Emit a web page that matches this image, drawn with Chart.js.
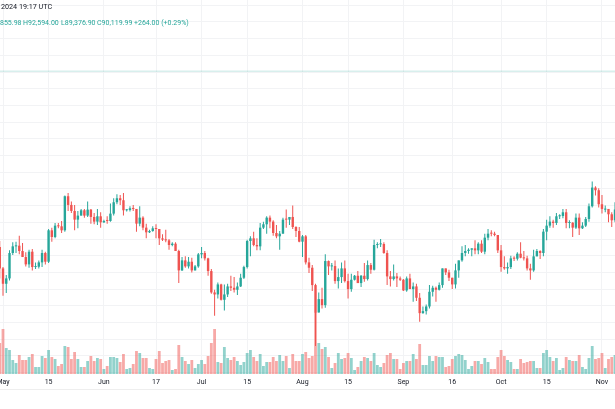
<!DOCTYPE html>
<html>
<head>
<meta charset="utf-8">
<script src="https://cdn.jsdelivr.net/npm/chart.js@4.4.1/dist/chart.umd.min.js"></script>
<style>
  html, body { margin: 0; padding: 0; background: #fff; }
  #wrap { width: 615px; height: 409px; }
</style>
</head>
<body>
<div id="wrap"><canvas id="myChart" width="615" height="409"></canvas></div>
<script>
// daily candles, Apr 30 .. Nov 5 (price in thousand USD)
const firstDay = -1 // Apr 30, counted in days from May 1

const open = [
  63.8,
  60.6, 58.3, 59.1, 62.9, 63.9, 64.0, 63.2, 62.3, 61.2, 63.1, 60.8, 60.85, 61.5, 62.9, 61.6, 66.3,
  65.3, 67.0, 66.9, 66.3, 71.4, 70.1, 69.2, 67.9, 68.5, 69.3, 68.5, 69.4, 68.3, 67.6, 68.4,
  67.5, 67.75, 67.7, 68.8, 70.5, 71.1, 70.8, 69.3, 69.35, 69.6, 69.5, 67.3, 68.2, 66.7, 66.0,
  66.2, 66.6, 66.5, 65.1, 64.9, 64.8, 64.1, 64.3, 63.2, 60.3, 61.8, 60.9, 61.6, 60.3, 60.9,
  62.7, 62.9, 62.1, 60.2, 57.0, 56.7, 58.2, 55.9, 56.7, 57.9, 57.7, 57.4, 57.9, 59.2, 60.8,
  64.7, 65.1, 64.1, 63.9, 66.7, 67.2, 68.2, 67.6, 65.9, 65.4, 65.8, 67.95, 67.9, 68.3, 66.8, 66.2,
  64.6, 65.4, 61.5, 60.7, 58.1, 54.0, 56.0, 55.1, 61.7, 60.9, 60.95, 58.7, 59.3, 60.6, 58.7,
  57.5, 58.9, 59.5, 58.4, 59.5, 59.0, 61.1, 60.4, 64.1, 64.2, 64.25, 62.9, 59.4, 59.0, 59.4, 59.1,
  58.9, 57.3, 59.1, 57.5, 57.9, 56.2, 53.9, 54.2, 54.9, 57.1, 57.7, 57.4, 58.1, 60.6, 60.0,
  59.2, 58.2, 60.3, 61.8, 62.9, 63.2, 63.4, 63.6, 63.3, 64.3, 63.1, 65.2, 65.85, 65.8, 65.6,
  63.3, 60.8, 60.6, 60.8, 62.15, 62.05, 62.8, 62.2, 62.1, 60.6, 60.3, 62.4, 63.2, 62.9, 66.1,
  67.0, 67.6, 67.4, 68.4, 68.45, 69.0, 67.4, 67.45, 66.7, 68.2, 66.6, 67.0, 68.0, 69.9, 72.7, 72.3,
  70.2, 69.4, 69.5, 68.7, 67.8
]
const high = [
  64.7,
  60.8, 59.6, 63.3, 64.5, 64.6, 65.5, 64.4, 63.0, 63.4, 63.5, 61.5, 61.8, 63.4, 63.1, 66.5, 66.7,
  67.4, 67.4, 67.7, 71.5, 71.9, 70.6, 70.1, 69.2, 69.5, 69.5, 70.6, 69.5, 68.9, 69.5, 69.0,
  67.9, 68.4, 70.3, 71.1, 71.7, 71.6, 71.9, 69.5, 69.9, 70.1, 69.5, 69.9, 68.4, 67.3, 66.4,
  66.9, 67.2, 66.5, 65.7, 66.4, 65.0, 64.5, 64.5, 63.4, 62.3, 62.4, 62.3, 62.2, 61.1, 62.9,
  63.8, 63.2, 62.2, 60.5, 57.4, 58.5, 58.3, 58.2, 58.3, 59.5, 59.3, 58.5, 59.8, 61.0, 64.9,
  65.4, 66.1, 65.1, 67.4, 67.6, 68.4, 68.5, 67.8, 67.1, 66.2, 68.2, 69.4, 68.3, 70.0, 66.9, 66.8,
  65.6, 65.6, 62.2, 61.1, 58.3, 57.0, 57.7, 62.7, 61.8, 61.4, 61.8, 60.6, 61.5, 61.8, 59.8,
  59.8, 59.6, 60.2, 59.6, 61.4, 61.8, 61.4, 64.9, 64.5, 65.0, 64.5, 63.3, 60.2, 61.2, 59.9, 59.4,
  59.0, 59.4, 59.8, 58.5, 58.3, 56.9, 54.9, 55.2, 58.1, 58.0, 57.9, 58.5, 60.6, 60.6, 60.4,
  59.2, 61.3, 61.8, 63.9, 64.1, 63.6, 63.6, 64.8, 64.5, 64.8, 65.8, 66.5, 66.3, 66.1, 65.6,
  64.1, 62.4, 61.5, 62.5, 62.4, 63.0, 64.5, 63.2, 62.5, 61.3, 63.4, 63.5, 63.3, 66.5, 67.9,
  68.4, 67.9, 68.9, 68.7, 69.5, 69.5, 67.8, 67.5, 68.8, 68.8, 67.5, 68.3, 70.3, 73.6, 72.9, 72.6,
  71.6, 70.0, 69.5, 69.0, 70.5
]
const low = [
  59.1,
  56.5, 56.9, 58.8, 62.6, 62.9, 62.7, 62.3, 60.9, 60.7, 60.3, 60.5, 60.6, 60.8, 61.2, 61.4, 64.6,
  65.1, 66.6, 65.9, 66.1, 69.2, 68.9, 66.3, 66.6, 68.5, 68.2, 68.3, 67.3, 67.2, 67.1, 66.7,
  67.4, 67.3, 67.6, 68.5, 70.2, 70.1, 68.5, 69.1, 69.1, 69.2, 66.1, 66.9, 66.3, 65.1, 65.9,
  66.1, 65.1, 64.1, 64.7, 64.5, 63.4, 63.9, 63.2, 58.4, 60.2, 60.7, 60.6, 60.0, 60.3, 60.7,
  62.1, 61.8, 59.5, 56.8, 53.5, 56.1, 55.8, 54.3, 56.3, 57.2, 57.0, 56.6, 57.8, 59.0, 60.6,
  62.4, 63.9, 63.3, 63.3, 66.5, 65.8, 66.6, 65.5, 65.1, 63.4, 65.8, 66.7, 67.1, 66.5, 65.3, 64.5,
  62.3, 61.2, 59.9, 57.2, 49.0, 54.0, 54.6, 54.7, 59.6, 60.3, 58.3, 57.6, 58.4, 58.5, 56.1,
  57.1, 58.8, 58.4, 57.8, 58.6, 58.8, 59.8, 60.3, 63.6, 63.8, 62.8, 58.1, 57.9, 58.8, 57.8, 58.7,
  57.2, 57.1, 57.5, 55.6, 55.7, 52.6, 53.8, 53.7, 54.6, 56.4, 55.6, 57.3, 57.7, 59.6, 58.7,
  57.5, 57.6, 59.2, 61.6, 62.4, 62.8, 62.4, 62.7, 62.7, 62.9, 62.7, 64.8, 65.4, 65.4, 62.9,
  60.1, 60.4, 59.8, 60.5, 61.7, 61.8, 62.1, 61.8, 60.3, 58.9, 60.1, 62.4, 62.0, 62.4, 64.8,
  66.7, 66.7, 67.1, 68.0, 68.1, 66.6, 66.6, 65.3, 66.5, 65.6, 66.5, 66.8, 67.6, 69.7, 71.5, 69.7,
  68.8, 69.0, 67.5, 66.8, 67.5
]
const close = [
  60.6,
  58.3, 59.1, 62.9, 63.9, 64.0, 63.2, 62.3, 61.2, 63.1, 60.8, 60.85, 61.5, 62.9, 61.6, 66.3, 65.3,
  67.0, 66.9, 66.3, 71.4, 70.1, 69.2, 67.9, 68.5, 69.3, 68.5, 69.4, 68.3, 67.6, 68.4, 67.5,
  67.7, 67.7, 68.8, 70.5, 71.1, 70.8, 69.3, 69.35, 69.6, 69.5, 67.3, 68.2, 66.7, 66.0, 66.2,
  66.6, 66.5, 65.1, 64.9, 64.8, 64.1, 64.3, 63.2, 60.3, 61.8, 60.9, 61.6, 60.3, 60.9, 62.7,
  62.9, 62.1, 60.2, 57.0, 56.7, 58.2, 55.9, 56.7, 57.9, 57.7, 57.4, 57.9, 59.2, 60.8, 64.7,
  65.1, 64.1, 63.9, 66.7, 67.2, 68.2, 67.6, 65.9, 65.4, 65.8, 67.9, 67.9, 68.3, 66.8, 66.2, 64.6,
  65.4, 61.5, 60.7, 58.1, 54.0, 56.0, 55.1, 61.7, 60.9, 60.95, 58.7, 59.3, 60.6, 58.7, 57.5,
  58.9, 59.5, 58.4, 59.5, 59.0, 61.1, 60.4, 64.1, 64.2, 64.25, 62.9, 59.4, 59.0, 59.4, 59.1, 58.9,
  57.3, 59.1, 57.5, 57.9, 56.2, 53.9, 54.2, 54.9, 57.1, 57.7, 57.4, 58.1, 60.6, 60.0, 59.2,
  58.2, 60.3, 61.8, 62.9, 63.2, 63.4, 63.6, 63.3, 64.3, 63.1, 65.2, 65.8, 65.8, 65.6, 63.3,
  60.8, 60.6, 60.8, 62.1, 62.05, 62.8, 62.2, 62.1, 60.6, 60.3, 62.4, 63.2, 62.9, 66.1, 67.0,
  67.6, 67.4, 68.4, 68.45, 69.0, 67.4, 67.45, 66.7, 68.2, 66.6, 67.0, 68.0, 69.9, 72.7, 72.3, 70.2,
  69.5, 69.5, 68.7, 67.8, 69.4
]
// volume, relative units
const volume = [
  31,
  45, 26, 24, 14, 11, 19, 14, 14, 17, 20, 7, 7, 18, 16, 24, 17,
  15, 8, 10, 28, 27, 15, 22, 15, 7, 7, 13, 18, 13, 16, 15,
  5, 8, 17, 17, 16, 12, 20, 5, 6, 10, 23, 21, 16, 16, 6,
  5, 15, 23, 11, 13, 14, 4, 5, 29, 17, 13, 10, 14, 6, 10,
  14, 10, 18, 31, 45, 12, 11, 27, 16, 14, 17, 13, 9, 12, 21,
  24, 17, 13, 20, 8, 12, 12, 17, 13, 19, 13, 18, 6, 20, 13, 13,
  20, 22, 16, 18, 62, 31, 25, 27, 17, 6, 11, 21, 15, 16, 21,
  16, 4, 7, 13, 17, 16, 13, 21, 9, 7, 11, 19, 21, 15, 15, 5,
  11, 13, 13, 20, 15, 30, 9, 9, 18, 13, 18, 17, 17, 7, 8,
  15, 18, 20, 19, 14, 5, 8, 13, 13, 10, 16, 12, 5, 5, 17,
  24, 18, 14, 12, 5, 5, 15, 11, 12, 13, 13, 6, 6, 21, 24,
  17, 13, 16, 4, 6, 17, 14, 13, 13, 19, 7, 5, 16, 28, 15, 16,
  21, 6, 15, 17, 19
]
const lastClose = 90.11999

const tickDays = [0, 14, 31, 47, 61, 75, 92, 106, 123, 138, 153, 167, 184]
const tickLabels = ['May', '15', 'Jun', '17', 'Jul', '15', 'Aug', '15', 'Sep', '16', 'Oct', '15', 'Nov']
const priceGrid = [45, 47.5, 50, 52.5, 55, 57.5, 60, 62.5, 65, 67.5, 70, 72.5, 75, 77.5, 80, 82.5, 85, 87.5, 90, 92.5, 95, 97.5, 100]

const headerDate = '2024 19:17 UTC'
// [text, start x]
const headerParts = [
  ['855.98', 0], ['H92,594.00', 23], ['L89,376.90', 61], ['C90,119.99', 97], ['+264.00 (+0.29%)', 134]
]

const UP = '#26a69a'
const DOWN = '#ef5350'
const FONT = 'Roboto'

const days = open.map((_, i) => firstDay + i)
const isUp = close.map((c, i) => c >= open[i])
const candleColors = isUp.map(u => u ? UP : DOWN)
const volColors = isUp.map(u => u ? 'rgba(38,166,154,0.5)' : 'rgba(239,83,80,0.5)')

const headerPlugin = {
  id: 'header',
  afterDraw(chart) {
    const ctx = chart.ctx
    ctx.save()
    ctx.textBaseline = 'middle'
    ctx.font = '7.2px ' + FONT
    ctx.fillStyle = '#131722'
    ctx.fillText(headerDate, 1, 7.5)
    ctx.font = '7px ' + FONT
    headerParts.forEach(([t, x]) => {
      ctx.fillStyle = UP
      ctx.fillText(t, x, 23.5)
    })
    ctx.strokeStyle = '#eeeeee'
    ctx.lineWidth = 1
    ctx.beginPath()
    ctx.moveTo(0, 389.5)
    ctx.lineTo(615, 389.5)
    ctx.stroke()
    ctx.restore()
  }
}

const config = {
  type: 'bar',
  data: {
    datasets: [
      {
        label: 'last',
        type: 'line',
        data: [{ x: -2, y: lastClose }, { x: 190, y: lastClose }],
        borderColor: 'rgba(38,166,154,0.18)',
        borderWidth: 1.5,
        pointRadius: 0,
        yAxisID: 'y',
        order: 4
      },
      {
        label: 'body',
        data: days.map((d, i) => ({ x: d, y: [open[i], close[i]] })),
        backgroundColor: candleColors,
        barThickness: 2.4,
        minBarLength: 1,
        inflateAmount: 0,
        grouped: false,
        yAxisID: 'y',
        order: 1
      },
      {
        label: 'wick',
        data: days.map((d, i) => ({ x: d, y: [low[i], high[i]] })),
        backgroundColor: candleColors,
        barThickness: 1,
        inflateAmount: 0,
        grouped: false,
        yAxisID: 'y',
        order: 2
      },
      {
        label: 'volume',
        data: days.map((d, i) => ({ x: d, y: volume[i] })),
        backgroundColor: volColors,
        barThickness: 2.8,
        inflateAmount: 0,
        grouped: false,
        yAxisID: 'vol',
        order: 3
      }
    ]
  },
  options: {
    responsive: false,
    animation: false,
    devicePixelRatio: 1,
    layout: { padding: 0 },
    plugins: { legend: { display: false }, tooltip: { enabled: false } },
    scales: {
      x: {
        type: 'linear',
        offset: false,
        min: -3 / 3.255,
        max: 188,
        afterBuildTicks: axis => { axis.ticks = tickDays.map(v => ({ value: v })) },
        afterFit: axis => { axis.paddingLeft = 0; axis.paddingRight = 0; axis.height = 35 },
        ticks: {
          autoSkip: false,
          maxRotation: 0,
          padding: 4,
          color: '#131722',
          font: { family: FONT, size: 7 },
          callback: v => tickLabels[tickDays.indexOf(v)]
        },
        grid: { color: '#f2f3f5', drawTicks: false, offset: false },
        border: { display: false }
      },
      y: {
        position: 'right',
        min: 44.79,
        max: 100.78,
        afterBuildTicks: axis => { axis.ticks = priceGrid.map(v => ({ value: v })) },
        ticks: { display: false },
        grid: { color: '#f2f3f5', drawTicks: false },
        border: { display: false }
      },
      vol: {
        display: false,
        min: 0,
        max: 374
      }
    }
  },
  plugins: [headerPlugin]
}

const myChart = new Chart(document.getElementById('myChart'), config)
</script>
</body>
</html>
